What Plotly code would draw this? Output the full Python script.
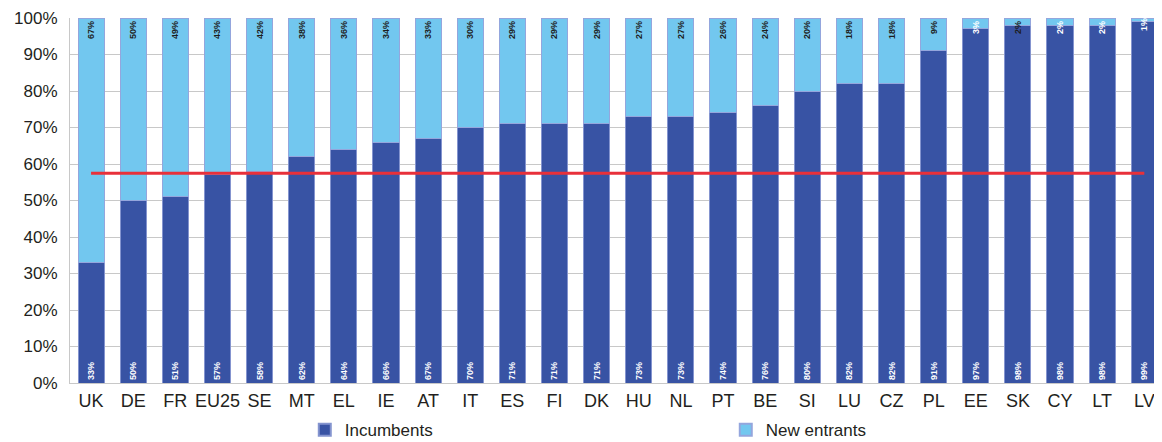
import plotly.graph_objects as go

countries = ["UK", "DE", "FR", "EU25", "SE", "MT", "EL", "IE", "AT", "IT", "ES", "FI", "DK",
             "HU", "NL", "PT", "BE", "SI", "LU", "CZ", "PL", "EE", "SK", "CY", "LT", "LV"]
incumbents = [33, 50, 51, 57, 58, 62, 64, 66, 67, 70, 71, 71, 71,
              73, 73, 74, 76, 80, 82, 82, 91, 97, 98, 98, 98, 99]
new_entrants = [67, 50, 49, 43, 42, 38, 36, 34, 33, 30, 29, 29, 29,
                27, 27, 26, 24, 20, 18, 18, 9, 3, 2, 2, 2, 1]
eu25_average = 57.5
y_ticks = [0, 10, 20, 30, 40, 50, 60, 70, 80, 90, 100]
y_tick_labels = [f"{v}%" for v in y_ticks]

DARK = "#3853a4"
LIGHT = "#72c7ef"
FONT = "Liberation Sans, Arial, sans-serif"
TXT = "#231f20"

ne_colors = ["#ffffff" if v <= 3 and c != "SK" else "#1e1e1e" for v, c in zip(new_entrants, countries)]

fig = go.Figure()
fig.add_trace(go.Bar(
    x=countries, y=incumbents, name="Incumbents",
    marker=dict(color=DARK, line=dict(color="#8494cf", width=1)),
    text=[f"{v}%" for v in incumbents], textposition="inside",
    insidetextanchor="start", textangle=-90, constraintext="none",
    textfont=dict(family=FONT, size=9, color="#ffffff", weight="bold"),
    hoverinfo="skip",
))
fig.add_trace(go.Bar(
    x=countries, y=new_entrants, name="New entrants",
    marker=dict(color=LIGHT, line=dict(color="#94a6dd", width=1)),
    text=[f"{v}%" for v in new_entrants], textposition="inside",
    insidetextanchor="end", textangle=-90, constraintext="none",
    textfont=dict(family=FONT, size=9, color=ne_colors, weight="bold"),
    hoverinfo="skip",
))
fig.add_trace(go.Scatter(
    x=countries, y=[eu25_average] * len(countries), mode="lines",
    line=dict(color="#e8303a", width=3), showlegend=False, hoverinfo="skip",
))

fig.update_layout(
    width=1154, height=434,
    margin=dict(l=62, r=0, t=10, b=59, autoexpand=False),
    barmode="stack", bargap=0.38,
    plot_bgcolor="white", paper_bgcolor="white",
    font=dict(family=FONT, color=TXT, size=16),
    legend=dict(
        orientation="h", x=0.215, xanchor="left", y=-0.08, yanchor="top",
        entrywidth=376, entrywidthmode="pixels",
        font=dict(size=17, color=TXT), traceorder="normal",
        itemsizing="constant", tracegroupgap=0,
    ),
    xaxis=dict(
        range=[-0.5, 25.42], showgrid=False, showline=True, linecolor="#c8c8c8",
        linewidth=1, tickfont=dict(size=18, color=TXT), ticks="",
        ticklabelstandoff=1,
    ),
    yaxis=dict(
        range=[0, 100], tickvals=y_ticks, ticktext=y_tick_labels,
        showgrid=True, gridcolor="#c8c8c8", gridwidth=1,
        showline=True, linecolor="#c8c8c8", linewidth=1,
        tickfont=dict(size=17, color=TXT), ticklabelstandoff=8, zeroline=False,
    ),
)

fig.write_html("out.html")
